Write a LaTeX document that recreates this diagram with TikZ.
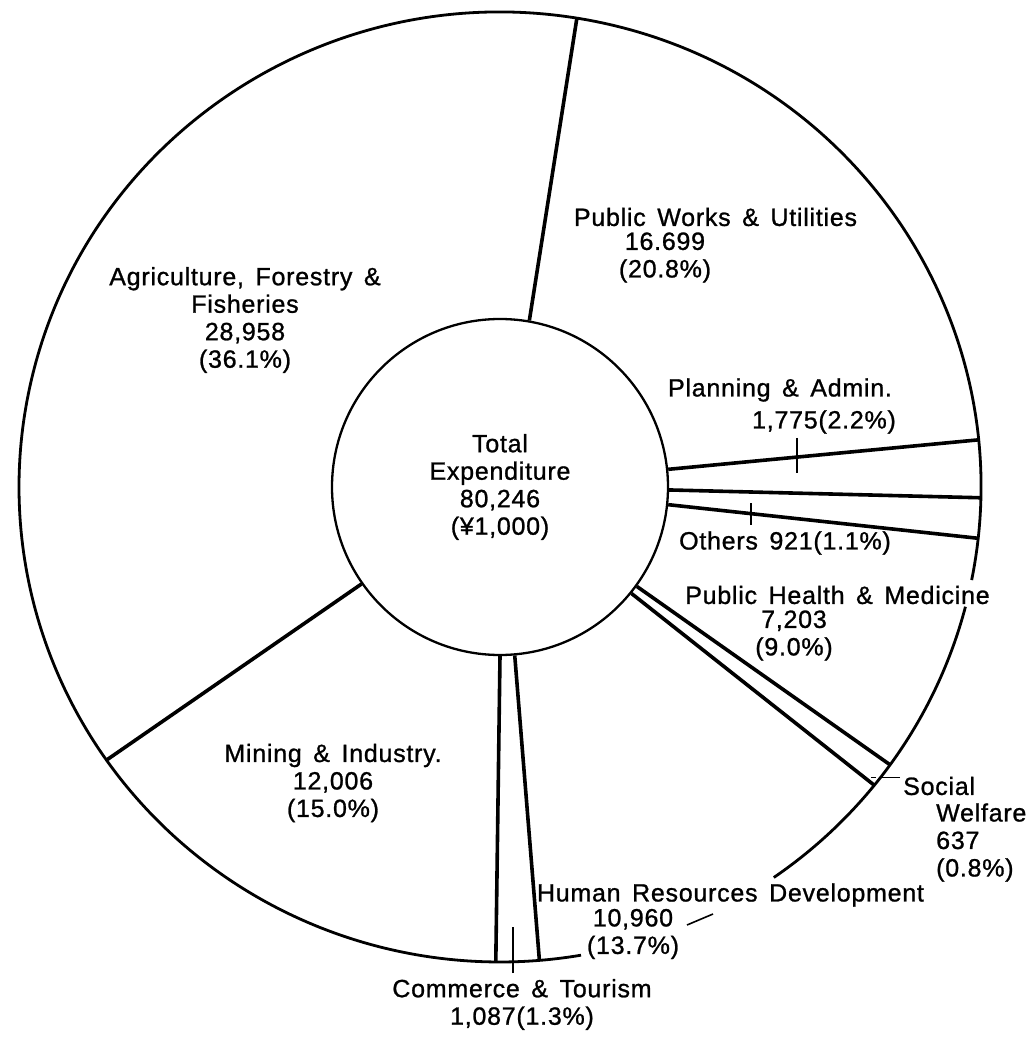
\documentclass[tikz,border=0pt]{standalone}
\usepackage{fontspec}
\setmainfont{Liberation Sans}[LetterSpace=3,WordSpace=1.5,FakeBold=1]

\tikzset{
  sector/.style={line width=3.6pt},
  rim/.style={line width=2.8pt},
  leader/.style={line width=1.6pt},
  lbl/.style={align=center, inner sep=0pt, font=\fontsize{25}{27.5}\selectfont},
}

\begin{document}
\begin{tikzpicture}[x=1pt,y=1pt]
        \useasboundingbox (-500,-551) rectangle (534,487);
        % centre disc
        \node [circle, draw, line width=2.3pt, minimum size=336pt, inner sep=0pt, lbl] (hub) at (0,0)
            {Total\\Expenditure\\80,246\\(¥1,000)};
        % outer ring, open where the labels sit
        \draw [rim] (-55.3:481 and 475) arc [start angle=-55.3, end angle=-14.6, x radius=481, y radius=475];
        \draw [rim] (-11.3:481 and 475) arc [start angle=-11.3, end angle=279.7, x radius=481, y radius=475];
        % sector borders
        \foreach \a/\b in {80/80.8, 6.3/5.7, 359/-1.3, 354/-6.2, 324.8/-35.8,
                           321/-38.9, 275.8/-85.3, 270/-90.5, 215.7/215.1}
            \draw [sector] (hub.\a) -- (\b:481 and 475);
        % labels
        \node [lbl] (agri) at (-255,167) {Agriculture, Forestry \&\\Fisheries\\28,958\\(36.1\%)};
        \node [lbl] (works) at (215.5,270) {Public Works \& Utilities};
        \node [lbl] (worksval) at (165,229.5) {16.699\\(20.8\%)};
        \node [lbl] (plan) at (280,97) {Planning \& Admin.};
        \node [lbl] (planval) at (324,65) {1,775(2.2\%)};
        \node [lbl] (others) at (285,-56) {Others 921(1.1\%)};
        \node [lbl] (health) at (337.5,-108) {Public Health \& Medicine};
        \node [lbl] (healthval) at (294,-148.5) {7,203\\(9.0\%)};
        \node [lbl, anchor=west] (social) at (403,-299) {Social};
        \node [lbl, anchor=west, align=left] (socialval) at (436,-355.5) {Welfare\\637\\(0.8\%)};
        \node [lbl] (human) at (230.5,-408) {Human Resources Development};
        \node [lbl] (humanval) at (133,-447) {10,960\\(13.7\%)};
        \node [lbl] (mining) at (-167,-296) {Mining \& Industry.\\12,006\\(15.0\%)};
        \node [lbl] (trade) at (22,-517.5) {Commerce \& Tourism\\1,087(1.3\%)};
        % leader ticks
        \coordinate (plantick) at (297,49);
        \coordinate (otherstick) at (251,-38);
        \coordinate (tradetick) at (13,-486);
        \coordinate (socialtick) at (400,-290.5);
        \coordinate (humantick) at (187,-438);
        \draw [leader] (plantick) -- ++(0,-35);
        \draw [leader] (otherstick) -- ++(0,22);
        \draw [leader] (tradetick) -- ++(0,46);
        \draw [leader] (socialtick) -- ++(-18,0) ++(-6,0) -- ++(-5,0);
        \draw [leader] (humantick) -- ++(26,11);
    \end{tikzpicture}
\end{document}
